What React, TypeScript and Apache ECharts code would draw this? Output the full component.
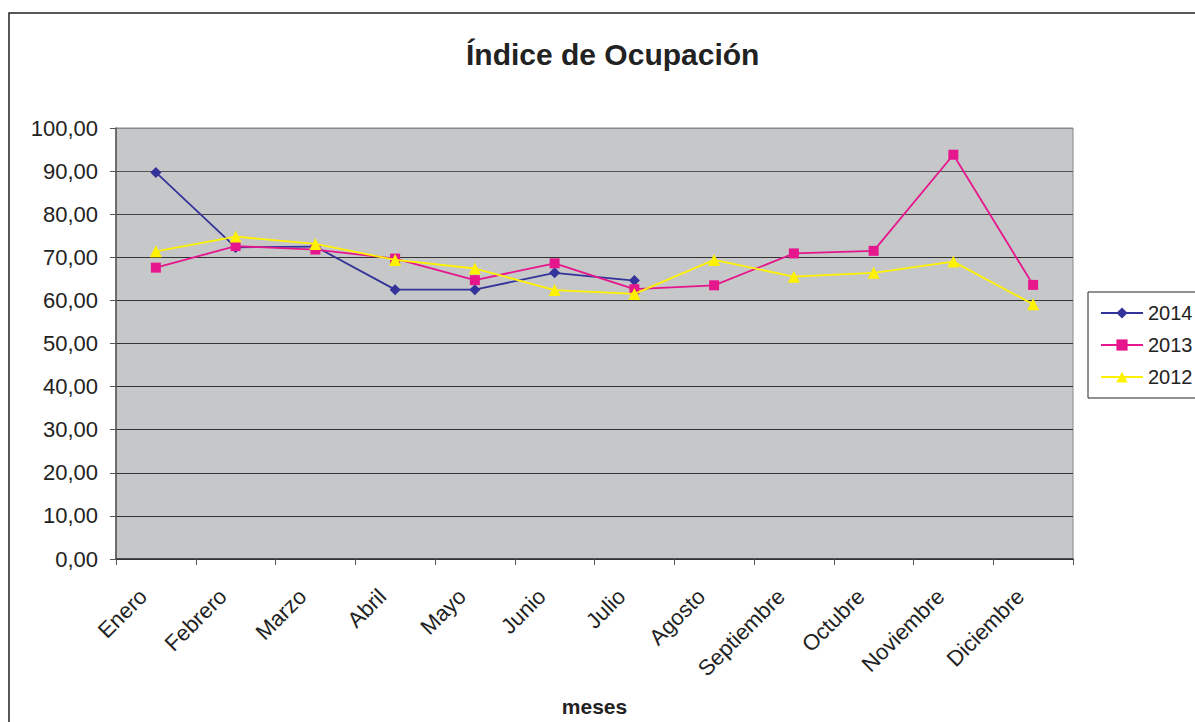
import React, { useEffect, useRef } from "react";
import * as echarts from "echarts";

const months = ["Enero", "Febrero", "Marzo", "Abril", "Mayo", "Junio", "Julio", "Agosto", "Septiembre", "Octubre", "Noviembre", "Diciembre"];
const s2014 = [89.7, 72.3, 72.5, 62.5, 62.5, 66.4, 64.6, null, null, null, null, null];
const s2013 = [67.6, 72.6, 71.8, 69.7, 64.7, 68.6, 62.6, 63.5, 70.9, 71.5, 93.8, 63.6];
const s2012 = [71.4, 74.8, 73.1, 69.4, 67.4, 62.4, 61.5, 69.4, 65.5, 66.4, 69.0, 59.1];
const seriesNames = ["2014", "2013", "2012"];
const titleText = "Índice de Ocupación";
const xName = "meses";

const FONT = "'Liberation Sans', Arial, sans-serif";

export default function App() {
  const ref = useRef<HTMLDivElement>(null);
  useEffect(() => {
    const chart = echarts.init(ref.current!, null, { renderer: "svg" });
    chart.setOption({
      animation: false,
      textStyle: { fontFamily: FONT },
      title: {
        text: titleText,
        left: 466,
        top: 39,
        padding: 0,
        textStyle: { fontFamily: FONT, fontSize: 30, fontWeight: "bold", color: "#222" },
      },
      graphic: [
        {
          type: "rect",
          shape: { x: 9, y: 13, width: 1300, height: 900 },
          style: { fill: "none", stroke: "#222", lineWidth: 1.5 },
          silent: true,
        },
      ],
      grid: {
        left: 116,
        top: 128,
        width: 957,
        height: 431,
        show: true,
        backgroundColor: "#C6C7C9",
        borderColor: "#888",
        borderWidth: 1,
      },
      legend: {
        left: 1088,
        top: 292,
        orient: "vertical",
        data: seriesNames,
        borderColor: "#222",
        borderWidth: 1,
        padding: [11, 20, 11, 12],
        itemGap: 12,
        itemWidth: 42,
        itemHeight: 14,
        textStyle: { fontFamily: FONT, fontSize: 20, color: "#222" },
      },
      xAxis: {
        type: "category",
        data: months,
        boundaryGap: true,
        name: xName,
        nameLocation: "middle",
        nameGap: 137,
        nameTextStyle: { fontFamily: FONT, fontSize: 21, fontWeight: "bold", color: "#222" },
        axisLine: { lineStyle: { color: "#333", width: 1.5 } },
        axisTick: { show: true, length: 6, lineStyle: { color: "#555" } },
        axisLabel: {
          rotate: 45,
          fontSize: 22,
          color: "#222",
          margin: 21,
          padding: [0, 18, 0, 0],
          interval: 0,
          fontFamily: FONT,
        },
        splitLine: { show: false },
      },
      yAxis: {
        type: "value",
        min: 0,
        max: 100,
        interval: 10,
        axisLine: { show: true, lineStyle: { color: "#555", width: 1.5 } },
        axisTick: { show: true, length: 6, lineStyle: { color: "#555" } },
        axisLabel: {
          fontSize: 22,
          color: "#222",
          margin: 18,
          fontFamily: FONT,
          formatter: (v: number) => v.toFixed(2).replace(".", ","),
        },
        splitLine: {
          show: true,
          lineStyle: { color: ["#333", "#333", "#333", "#333", "#333", "#333", "#333", "#333", "#444", "#555", "#888"], width: 1.2 },
        },
      },
      series: [
        {
          name: seriesNames[0],
          type: "line",
          data: s2014,
          symbol: "diamond",
          symbolSize: 11,
          color: "#333399",
          lineStyle: { color: "#333399", width: 1.8 },
          itemStyle: { color: "#333399" },
          z: 3,
        },
        {
          name: seriesNames[1],
          type: "line",
          data: s2013,
          symbol: "rect",
          symbolSize: 10,
          color: "#E6168C",
          lineStyle: { color: "#E6168C", width: 1.8 },
          itemStyle: { color: "#E6168C" },
          z: 4,
        },
        {
          name: seriesNames[2],
          type: "line",
          data: s2012,
          symbol: "triangle",
          symbolSize: 12,
          color: "#FFF200",
          lineStyle: { color: "#FFF200", width: 1.8 },
          itemStyle: { color: "#FFF200" },
          z: 5,
        },
      ],
    });
    return () => chart.dispose();
  }, []);
  return <div ref={ref} style={{ position: "absolute", left: 0, top: 0, width: 1195, height: 722 }} />;
}
